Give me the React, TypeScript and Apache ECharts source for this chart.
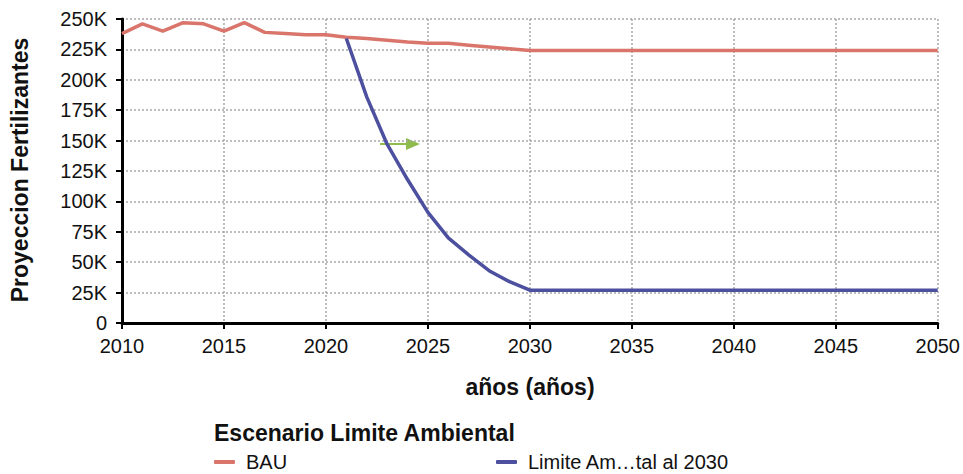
import React, { useEffect, useRef } from "react";
import * as echarts from "echarts";

const bauYears = [2010,2011,2012,2013,2014,2015,2016,2017,2018,2019,2020,2021,2022,2023,2024,2025,2026,2027,2028,2029,2030,2031,2032,2033,2034,2035,2036,2037,2038,2039,2040,2041,2042,2043,2044,2045,2046,2047,2048,2049,2050];
const bauValues = [238000,246000,240000,247000,246000,240000,247000,239000,238000,237000,237000,235000,234000,232500,231000,230000,230000,228500,227000,225500,224000,224000,224000,224000,224000,224000,224000,224000,224000,224000,224000,224000,224000,224000,224000,224000,224000,224000,224000,224000,224000];
const limYears = [2021,2022,2023,2024,2025,2026,2027,2028,2029,2030,2031,2032,2033,2034,2035,2036,2037,2038,2039,2040,2041,2042,2043,2044,2045,2046,2047,2048,2049,2050];
const limValues = [234000,186000,147000,118000,91000,70000,56000,43000,34000,27000,27000,27000,27000,27000,27000,27000,27000,27000,27000,27000,27000,27000,27000,27000,27000,27000,27000,27000,27000,27000];

const seriesNames = ["BAU", "Limite Ambiental al 2030"];
const legendLabels = ["BAU", "Limite Am…tal al 2030"];
const xTitle = "años (años)";
const yTitle = "Proyeccion Fertilizantes";
const legendTitle = "Escenario Limite Ambiental";

const FONT = '"Liberation Sans", Arial, Helvetica, sans-serif';
const colors = ["#d9756b", "#4c509f"];

export default function App() {
  const ref = useRef<HTMLDivElement>(null);
  useEffect(() => {
    if (!ref.current) return;
    const chart = echarts.init(ref.current, undefined, { renderer: "svg" });
    const axisLabel = { fontFamily: FONT, fontSize: 20, color: "#111" };
    const splitLine = { show: true, lineStyle: { color: "#a8a8a8", type: [2, 2], width: 1.5 } };
    const legendBase = {
      top: 452,
      padding: 0,
      itemWidth: 21,
      itemHeight: 4,
      icon: "roundRect",
      textStyle: { fontFamily: FONT, fontSize: 20, color: "#111", padding: [0, 0, 0, 6] },
      formatter: (n: string) => legendLabels[seriesNames.indexOf(n)],
    };
    chart.setOption({
      animation: false,
      grid: { left: 122, right: 25, top: 19, bottom: 151, containLabel: false },
      xAxis: {
        type: "value", min: 2010, max: 2050, interval: 5,
        axisLine: { show: true, lineStyle: { color: "#000", width: 3 } },
        axisTick: { show: true, length: 6, lineStyle: { color: "#000", width: 2 } },
        axisLabel: { ...axisLabel, margin: 13, formatter: (v: number) => String(v) },
        splitLine,
      },
      yAxis: {
        type: "value", min: 0, max: 250000, interval: 25000,
        axisLine: { show: true, lineStyle: { color: "#000", width: 3 } },
        axisTick: { show: true, length: 6, lineStyle: { color: "#000", width: 2 } },
        axisLabel: { ...axisLabel, margin: 15, formatter: (v: number) => (v === 0 ? "0" : v / 1000 + "K") },
        splitLine,
      },
      legend: [
        { ...legendBase, left: 214, data: [seriesNames[0]] },
        { ...legendBase, left: 496, data: [seriesNames[1]] },
      ],
      series: [
        {
          name: seriesNames[0], type: "line", showSymbol: false, color: colors[0],
          lineStyle: { width: 3.5, color: colors[0] },
          data: bauYears.map((y, i) => [y, bauValues[i]]),
        },
        {
          name: seriesNames[1], type: "line", showSymbol: false, color: colors[1],
          lineStyle: { width: 3.5, color: colors[1] },
          data: limYears.map((y, i) => [y, limValues[i]]),
        },
      ],
      graphic: [
        { type: "text", x: 20, y: 170, rotation: Math.PI / 2,
          style: { text: yTitle, font: `bold 23px ${FONT}`, fill: "#111", align: "center", verticalAlign: "middle" } },
        { type: "text", x: 530, y: 387,
          style: { text: xTitle, font: `bold 23px ${FONT}`, fill: "#111", align: "center", verticalAlign: "middle" } },
        { type: "text", x: 214, y: 433,
          style: { text: legendTitle, font: `bold 23px ${FONT}`, fill: "#111", align: "left", verticalAlign: "middle" } },
        { type: "line", shape: { x1: 380, y1: 144, x2: 408, y2: 144 }, style: { stroke: "#8dbb4c", lineWidth: 2 } },
        { type: "polygon", shape: { points: [[406, 138], [420, 144], [406, 150]] }, style: { fill: "#8dbb4c" } },
      ],
    });
    return () => chart.dispose();
  }, []);
  return <div ref={ref} style={{ width: 963, height: 474, position: "absolute", left: 0, top: 0 }} />;
}
